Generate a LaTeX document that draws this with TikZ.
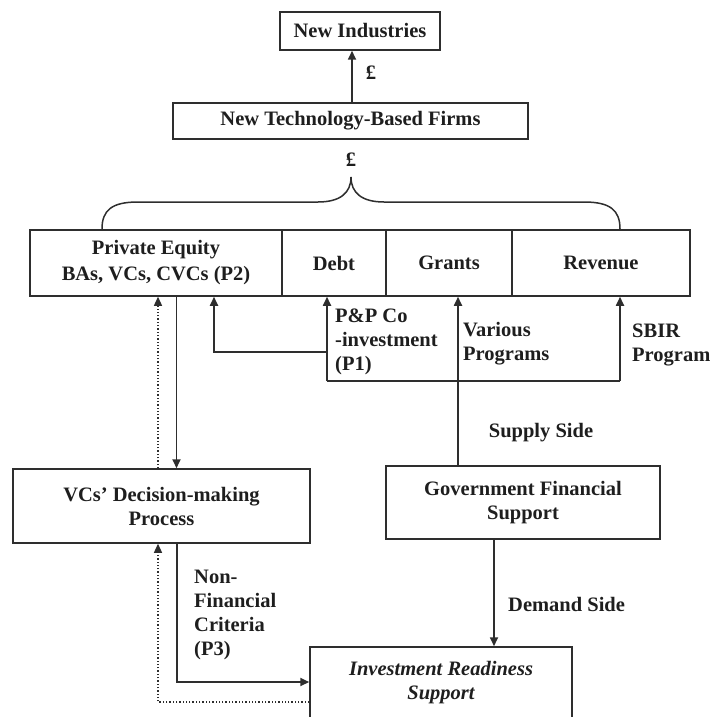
\documentclass[tikz,border=0pt]{standalone}
\usepackage{fontspec}
\setmainfont{Liberation Serif}
\usetikzlibrary{arrows.meta}
\definecolor{ink}{HTML}{2E2E2E}
\definecolor{txt}{HTML}{1E1E1E}
\begin{document}
\begin{tikzpicture}[x=1pt,y=-1pt,
  font=\fontsize{20.5}{24}\selectfont\bfseries,
  box/.style={draw=ink, line width=1.5pt, inner sep=0pt, align=center, text=txt},
  lbl/.style={inner sep=0pt, align=left, anchor=west, text=txt},
  tip/.style={-{Triangle[length=9pt,width=8pt]}},
  conn/.style={draw=ink, line width=1.7pt, tip},
  plain/.style={draw=ink, line width=1.7pt},
  dots/.style={draw=ink, line width=1.3pt, dotted, tip},
]
\useasboundingbox (0,0) rectangle (710,717);

% top boxes
\node[box, minimum width=160, minimum height=38] (ni) at (360,31) {New Industries};
\node[box, minimum width=355, minimum height=36] (ntbf) at (350.5,121) {New Technology-Based Firms};

% funding sources row
\node[box, minimum width=252, minimum height=66] (pe) at (156,263) {Private Equity\\[2pt]BAs, VCs, CVCs (P2)};
\node[box, minimum width=104, minimum height=66] (debt) at (334,263) {Debt};
\node[box, minimum width=126, minimum height=66] (grants) at (449,263) {Grants};
\node[box, minimum width=178, minimum height=66] (rev) at (601,263) {Revenue};

% lower boxes
\node[box, minimum width=297, minimum height=74] (vcs) at (161.5,506) {VCs' Decision-making\\Process};
\node[box, minimum width=274, minimum height=73] (gov) at (523,502.5) {Government Financial\\Support};
\node[box, minimum width=262, minimum height=72, font=\fontsize{20.5}{24}\selectfont\bfseries\itshape] (irs) at (441,683) {Investment Readiness\\Support};

% connector columns and junctions
\coordinate (cA) at (352,0);
\coordinate (cDot) at (158,0);
\coordinate (cDown) at (176.5,0);
\coordinate (cPE) at (214,0);
\coordinate (cDebt) at (327,0);
\coordinate (cGr) at (458,0);
\coordinate (cRev) at (620,0);
\coordinate (cDem) at (494,0);
\coordinate (jP1) at (327,352);
\coordinate (jLow) at (327,381);
\coordinate (jRev) at (620,381);
\coordinate (jNF) at (176.5,682);
\coordinate (jDot) at (158,702);

% firms to industries
\draw[conn] (ntbf.north -| cA) -- (ni.south -| cA);
\node[inner sep=0pt, text=txt] (p1) at (371,73) {£};
\node[inner sep=0pt, text=txt] (p2) at (351,160) {£};

% brace gathering the funding sources
\draw[ink, line width=1.5pt] (102,229) .. controls (102,210) and (112,202) .. (138,202)
  -- (318,202) .. controls (340,202) and (351,193) .. (351,177)
  .. controls (351,193) and (362,202) .. (384,202)
  -- (584,202) .. controls (610,202) and (620,210) .. (620,229);

% private equity and decision making
\draw[dots] (vcs.north -| cDot) -- (pe.south -| cDot);
\draw[conn] (pe.south -| cDown) -- (vcs.north -| cDown);

% government programmes
\draw[conn] (gov.north -| cGr) -- (grants.south -| cGr);
\draw[plain] (jLow) -- (jRev);
\draw[conn] (jLow) -- (debt.south -| cDebt);
\draw[conn] (jRev) -- (rev.south -| cRev);
\draw[conn] (jP1) -| (pe.south -| cPE);

% demand side
\draw[conn] (gov.south -| cDem) -- (irs.north -| cDem);
\draw[conn, line width=2pt] (vcs.south -| jNF) -- (jNF) -- (irs.west |- jNF);
\draw[dots] (irs.west |- jDot) -- (jDot) -- (vcs.south -| jDot);

% labels
\node[lbl] (lp1) at (335,342) {P\&P Co\\-investment\\(P1)};
\node[lbl] (lvar) at (463,344) {Various\\Programs};
\node[lbl] (lsbir) at (632,345) {SBIR\\Program};
\node[text=txt, inner sep=0pt] (lsup) at (541,433) {Supply Side};
\node[lbl] (ldem) at (508,604) {Demand Side};
\node[lbl] (lnf) at (194,615) {Non-\\Financial\\Criteria\\(P3)};
\end{tikzpicture}
\end{document}
